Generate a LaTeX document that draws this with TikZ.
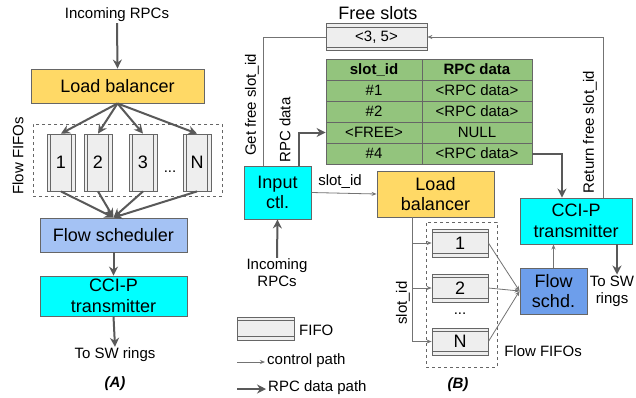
\documentclass[tikz,border=0pt]{standalone}
\usepackage{fontspec}
\setmainfont{Liberation Sans}
\usetikzlibrary{arrows.meta}
\definecolor{bordc}{HTML}{666666}
\definecolor{arrc}{HTML}{595959}
\definecolor{ctlc}{HTML}{737373}
\definecolor{lbfill}{HTML}{FFD966}
\definecolor{fsafill}{HTML}{A4C2F4}
\definecolor{fsbfill}{HTML}{6D9EEB}
\definecolor{ccfill}{HTML}{00FFFF}
\definecolor{tabfill}{HTML}{93C47D}
\definecolor{fifofill}{HTML}{EEEEEE}
\newcommand\myS{\fontsize{15}{17}\selectfont}
\newcommand\myL{\fontsize{18}{20.5}\selectfont}
\begin{document}
\begin{tikzpicture}[x=1pt,y=-1pt,
 box/.style={draw=bordc,line width=0.9pt,inner sep=0pt,align=center,font=\myL},
 vfifo/.style={draw=bordc,fill=fifofill,line width=0.8pt,inner sep=0pt,font=\myL,
   minimum width=28pt,minimum height=57pt,
   path picture={\draw[bordc,line width=0.8pt]
     ([xshift=3.5pt]path picture bounding box.north west) -- ([xshift=3.5pt]path picture bounding box.south west)
     ([xshift=-3.5pt]path picture bounding box.north east) -- ([xshift=-3.5pt]path picture bounding box.south east);}},
 hfifo/.style={draw=bordc,fill=fifofill,line width=0.8pt,inner sep=0pt,font=\myL,
   path picture={\draw[bordc,line width=0.8pt]
     ([yshift=-3.5pt]path picture bounding box.north west) -- ([yshift=-3.5pt]path picture bounding box.north east)
     ([yshift=3.5pt]path picture bounding box.south west) -- ([yshift=3.5pt]path picture bounding box.south east);}},
 cell/.style={draw=bordc,fill=tabfill,line width=0.8pt,inner sep=0pt,minimum height=21pt,font=\myS},
 lab/.style={font=\myS,inner sep=1pt,align=center},
 data/.style={draw=arrc,line width=2pt,-{Stealth[length=9pt,width=9pt,inset=3pt]}},
 ctl/.style={draw=ctlc,line width=0.8pt,-{Stealth[length=5pt,width=4pt]}},
 ctlline/.style={draw=ctlc,line width=0.8pt},
 dbox/.style={draw=bordc,line width=0.8pt,dashed,inner sep=0pt},
]
\fill[white] (0,0) rectangle (636,397);
\useasboundingbox (0,0) rectangle (636,397);

% ---------------- Panel A ----------------
\node[lab] (inA) at (117,15) {Incoming RPCs};
\node[box,fill=lbfill,minimum width=173pt,minimum height=34pt] (lbA) at (117.5,86) {Load balancer};
\node[dbox,minimum width=189pt,minimum height=72pt] (dA) at (127.5,160) {};
\node[vfifo] (fA1) at (61,162.5) {1};
\node[vfifo] (fA2) at (98,162.5) {2};
\node[vfifo] (fA3) at (143,162.5) {3};
\node[vfifo] (fAN) at (197,162.5) {N};
\node[lab] (dotsA) at (170,172) {...};
\node[font=\myS,rotate=90,inner sep=0pt] (flA) at (18,156) {Flow FIFOs};
\node[box,fill=fsafill,minimum width=147pt,minimum height=34pt] (fsA) at (113.5,235) {Flow scheduler};
\node[box,fill=ccfill,minimum width=147pt,minimum height=40pt] (ccA) at (113.5,296) {CCI-P\\transmitter};
\node[lab] (toA) at (115,355) {To SW rings};
\node[font=\myS\bfseries\itshape] (capA) at (115,384) {(A)};

\draw[data] (inA.south) -- (lbA.north);
\foreach \f in {fA1,fA2,fA3,fAN}{
  \draw[data] (lbA.south) -- (\f.north);
  \draw[data] (\f.south) -- (fsA.north);
}
\draw[data] (fsA.south) -- (ccA.north);
\draw[data] (ccA.south) -- (toA.north);

% ---------------- Panel B ----------------
\node[font=\myL] (fsT) at (378,13) {Free slots};
\node[hfifo,minimum width=101pt,minimum height=27pt,font=\myS] (fsl) at (376.5,37) {<3, 5>};

% table
\node[cell,minimum width=96pt,font=\myS\bfseries] (tH1) at (374,69.5) {slot\_id};
\node[cell,minimum width=110pt,font=\myS\bfseries] (tH2) at (477,69.5) {RPC data};
\node[cell,minimum width=96pt] (t1a) at (374,90.5) {\#1};
\node[cell,minimum width=110pt] (t1b) at (477,90.5) {<RPC data>};
\node[cell,minimum width=96pt] (t2a) at (374,111.5) {\#2};
\node[cell,minimum width=110pt] (t2b) at (477,111.5) {<RPC data>};
\node[cell,minimum width=96pt] (t3a) at (374,132.5) {<FREE>};
\node[cell,minimum width=110pt] (t3b) at (477,132.5) {NULL};
\node[cell,minimum width=96pt] (t4a) at (374,153.5) {\#4};
\node[cell,minimum width=110pt] (t4b) at (477,153.5) {<RPC data>};

\node[box,fill=ccfill,minimum width=67pt,minimum height=53pt] (inC) at (277.5,192.5) {Input\\ctl.};
\node[box,fill=lbfill,minimum width=117pt,minimum height=46pt] (lbB) at (435.5,194) {Load\\balancer};
\node[box,fill=ccfill,minimum width=112pt,minimum height=46pt] (ccB) at (576,221) {CCI-P\\transmitter};
\node[box,fill=fsbfill,minimum width=67pt,minimum height=46pt] (fsB) at (553.5,291) {Flow\\schd.};

\node[dbox,minimum width=71pt,minimum height=145pt] (dB) at (461.5,294.5) {};
\node[hfifo,minimum width=56pt,minimum height=28pt] (fB1) at (460,243) {1};
\node[hfifo,minimum width=56pt,minimum height=28pt] (fB2) at (460,288) {2};
\node[hfifo,minimum width=56pt,minimum height=27pt] (fBN) at (460,341.5) {N};
\node[lab] (dotsB) at (460,314) {...};

\node[font=\myS,rotate=90,inner sep=0pt] (getL) at (252,105) {Get free slot\_id};
\node[font=\myS,rotate=90,inner sep=0pt] (rpcL) at (285,130) {RPC data};
\node[font=\myS,rotate=90,inner sep=0pt] (retL) at (590,132) {Return free slot\_id};
\node[font=\myS,rotate=90,inner sep=0pt] (sidL) at (403,303) {slot\_id};
\node[lab] (sidT) at (340,182) {slot\_id};
\node[lab] (inB) at (277,273) {Incoming\\RPCs};
\node[lab] (toB) at (612,291) {To SW\\rings};
\node[lab] (ffB) at (543,351) {Flow FIFOs};
\node[font=\myS\bfseries\itshape] (capB) at (458,385) {(B)};

% connectors B
\draw[ctlline] ([xshift=-14.5pt]inC.north) |- (fsl.west);
\draw[data] ([xshift=21.5pt]inC.north) |- (t3a.west);
\draw[ctl] ([xshift=27pt]ccB.north) |- (fsl.east);
\draw[data] (t4b.east) -| ([xshift=-14pt]ccB.north);
\draw[ctl] (inC.east) -- (lbB.west);
\draw[data] (inB.north) -- (inC.south);
\coordinate (lbBot) at ([xshift=-23.5pt]lbB.south);
\draw[ctl] (lbBot) |- (fB1.west);
\draw[ctl] (lbBot) |- (fB2.west);
\draw[ctl] (lbBot) |- (fBN.west);
\draw[ctl] (fB1.east) -- (fsB.west);
\draw[ctl] (fB2.east) -- (fsB.west);
\draw[ctl] (fBN.east) -- (fsB.west);
\draw[ctl] (fsB.north) -- (fsB.north |- ccB.south);
\draw[data] ([xshift=41pt]ccB.south) -- ([xshift=41pt]ccB.south |- toB.north);

% legend
\node[hfifo,minimum width=57pt,minimum height=23pt] (lgF) at (265.5,328.5) {};
\node[lab,anchor=west] (lgFt) at (298,330) {FIFO};
\coordinate (lgC1) at (237,362);
\coordinate (lgC2) at (265,362);
\node[lab,anchor=west] (lgCt) at (266,361) {control path};
\draw[ctl] (lgC1) -- (lgC2);
\coordinate (lgD1) at (237,389);
\coordinate (lgD2) at (266,389);
\node[lab,anchor=west] (lgDt) at (267,388) {RPC data path};
\draw[data] (lgD1) -- (lgD2);
\end{tikzpicture}
\end{document}
